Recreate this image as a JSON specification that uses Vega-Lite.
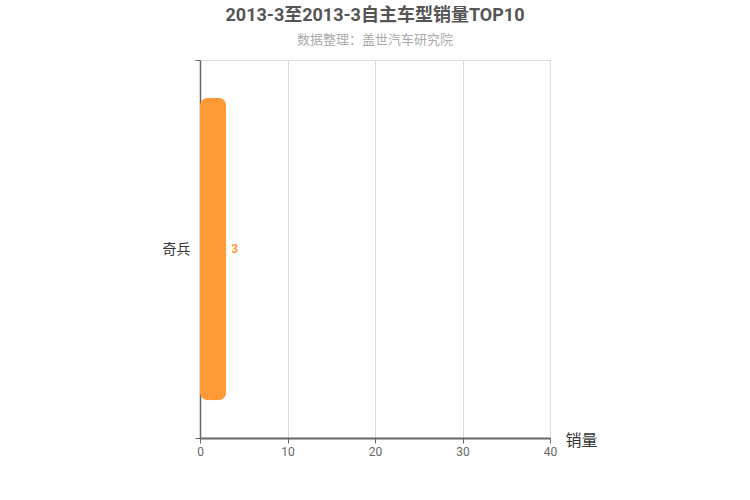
{
  "$schema": "https://vega.github.io/schema/vega-lite/v6.json",
  "width": 350,
  "height": 378,
  "autosize": "none",
  "padding": {"left": 200, "top": 60, "right": 200, "bottom": 62},
  "background": "white",
  "config": {
    "font": "Roboto, Noto Sans CJK SC",
    "view": {"stroke": null}
  },
  "title": {
    "text": "2013-3至2013-3自主车型销量TOP10",
    "subtitle": "数据整理：盖世汽车研究院",
    "anchor": "middle",
    "fontSize": 18,
    "fontWeight": "bold",
    "color": "#555555",
    "subtitleFontSize": 13,
    "subtitleColor": "#aaaaaa",
    "subtitlePadding": 9,
    "offset": 6
  },
  "data": {
    "values": [
      {"model": "奇兵", "sales": 3}
    ]
  },
  "encoding": {
    "y": {
      "field": "model",
      "type": "nominal",
      "title": null,
      "scale": {"paddingInner": 0, "paddingOuter": 0},
      "axis": {
        "tickBand": "extent",
        "grid": true,
        "gridColor": "#dddddd",
        "domainColor": "#666666",
        "domainWidth": 1.5,
        "tickColor": "#666666",
        "tickSize": 5,
        "labelFontSize": 14,
        "labelColor": "#333333",
        "labelPadding": 5
      }
    },
    "x": {
      "field": "sales",
      "type": "quantitative",
      "scale": {"domain": [0, 40]},
      "axis": {
        "values": [0, 10, 20, 30, 40],
        "labelFlush": false,
        "title": "销量",
        "titleFontSize": 16,
        "titleFontWeight": "normal",
        "titleColor": "#333333",
        "titleAngle": 0,
        "titleAlign": "left",
        "titleBaseline": "middle",
        "titleX": 365,
        "titleY": 2,
        "gridColor": "#dddddd",
        "domainColor": "#666666",
        "domainWidth": 2,
        "tickColor": "#666666",
        "tickSize": 5,
        "labelFontSize": 12,
        "labelColor": "#666666",
        "labelPadding": 3
      }
    }
  },
  "layer": [
    {
      "mark": {"type": "bar", "color": "#ff9a36", "cornerRadius": 8, "height": {"band": 0.8}}
    },
    {
      "mark": {
        "type": "text",
        "align": "left",
        "baseline": "middle",
        "dx": 5,
        "fontSize": 12,
        "fontWeight": "bold",
        "color": "#ff9a36"
      },
      "encoding": {
        "text": {"field": "sales", "type": "quantitative"}
      }
    }
  ]
}
